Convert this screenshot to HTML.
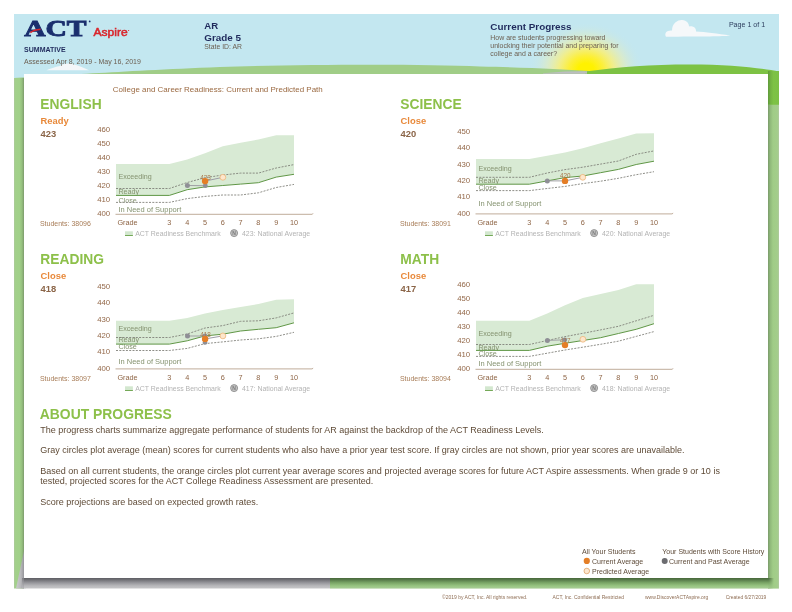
<!DOCTYPE html>
<html><head><meta charset="utf-8">
<style>
*{margin:0;padding:0;box-sizing:border-box}
html,body{width:792px;height:612px;overflow:hidden;background:#fff}
body{position:relative;font-family:"Liberation Sans",sans-serif}
.a{position:absolute;white-space:nowrap;line-height:1}
.subj{position:absolute;font-weight:bold;font-size:13px;color:#8cc152;line-height:13px;white-space:nowrap}
.stat{position:absolute;font-weight:bold;font-size:9px;color:#e8893a;line-height:9px}
.scr{position:absolute;font-weight:bold;font-size:9px;color:#8b6548;line-height:9px}
svg text{font-family:"Liberation Sans",sans-serif}
.ov{position:absolute;left:0;top:0;will-change:transform}
svg{will-change:transform}
.tk{font-size:7.8px;fill:#94694a}
.zn{font-size:7.2px;fill:#84926f}
.gr{font-size:7.3px;fill:#8f6647}
.st{font-size:7px;fill:#a87d58}
.lg{font-size:6.95px;fill:#b3b3b3}
.nn{font-size:5px;fill:#7a7a7a;font-weight:bold}
.dl{font-size:6.3px;fill:#a8784c}
.body{position:absolute;left:40px;font-size:7.6px;color:#5d4a38;white-space:nowrap;line-height:1}
</style></head><body>
<svg style="position:absolute;left:0;top:0" width="792" height="612" viewBox="0 0 792 612">
<defs>
<radialGradient id="sun" cx="586" cy="70" r="48" gradientUnits="userSpaceOnUse" gradientTransform="translate(586,70) scale(1.2,1) translate(-586,-70)">
<stop offset="0" stop-color="#fff200"/>
<stop offset="0.14" stop-color="#fff200"/>
<stop offset="0.3" stop-color="#fcef3a"/>
<stop offset="0.48" stop-color="#f6ef80" stop-opacity="0.9"/>
<stop offset="0.68" stop-color="#e6edb6" stop-opacity="0.6"/>
<stop offset="0.85" stop-color="#d2e9d8" stop-opacity="0.3"/>
<stop offset="1" stop-color="#c3e7f0" stop-opacity="0"/>
</radialGradient>
<linearGradient id="bsh" gradientUnits="userSpaceOnUse" x1="0" y1="578" x2="0" y2="588.6">
<stop offset="0" stop-color="#5e5e63"/>
<stop offset="0.15" stop-color="#6e6e73"/>
<stop offset="0.45" stop-color="#96969b"/>
<stop offset="0.75" stop-color="#b9b9bc"/>
<stop offset="1" stop-color="#c6c6c8"/>
</linearGradient>
<linearGradient id="gsh" gradientUnits="userSpaceOnUse" x1="0" y1="578" x2="0" y2="588.6">
<stop offset="0" stop-color="#48683a"/>
<stop offset="0.15" stop-color="#557848"/>
<stop offset="0.45" stop-color="#7aa566"/>
<stop offset="0.75" stop-color="#98c582"/>
<stop offset="1" stop-color="#a9cc96"/>
</linearGradient>
<linearGradient id="wsh" gradientUnits="userSpaceOnUse" x1="16" y1="0" x2="24" y2="0">
<stop offset="0" stop-color="#cacacd"/>
<stop offset="0.6" stop-color="#b8b8bb"/>
<stop offset="1" stop-color="#96969b"/>
</linearGradient>
<linearGradient id="lsh" gradientUnits="userSpaceOnUse" x1="14" y1="0" x2="24" y2="0">
<stop offset="0" stop-color="#adc99c"/>
<stop offset="0.15" stop-color="#a3d08b"/>
<stop offset="0.55" stop-color="#a1d089"/>
<stop offset="0.8" stop-color="#95bf7e"/>
<stop offset="1" stop-color="#7c9a6c"/>
</linearGradient>
<linearGradient id="rsh" gradientUnits="userSpaceOnUse" x1="768" y1="0" x2="779" y2="0">
<stop offset="0" stop-color="#7a9a6a"/>
<stop offset="0.2" stop-color="#90b97b"/>
<stop offset="0.45" stop-color="#a0cc87"/>
<stop offset="0.85" stop-color="#a3cd8b"/>
<stop offset="1" stop-color="#b0c9a0"/>
</linearGradient>
<linearGradient id="rsh2" gradientUnits="userSpaceOnUse" x1="768" y1="0" x2="779" y2="0">
<stop offset="0" stop-color="#5f9a3a"/>
<stop offset="0.25" stop-color="#74b442"/>
<stop offset="0.5" stop-color="#7dc244"/>
<stop offset="1" stop-color="#7cc046"/>
</linearGradient>
<linearGradient id="fr" gradientUnits="userSpaceOnUse" x1="768" y1="0" x2="774" y2="0">
<stop offset="0" stop-color="#fff"/><stop offset="1" stop-color="#000"/>
</linearGradient>
<mask id="fadeR" maskUnits="userSpaceOnUse" x="760" y="570" width="30" height="30"><rect x="760" y="570" width="30" height="30" fill="url(#fr)"/></mask>
</defs>
<rect x="14" y="14" width="765" height="574" fill="#c3e7f0"/>
<rect x="14" y="14" width="765" height="70" fill="url(#sun)"/>
<!-- clouds -->
<path d="M46.5,70.3 C50,68.6 55,67 60,66 C62.5,64 68,62.6 73,64.2 C78,65.2 84,67.6 89,70.3 Z" fill="#f4f7f9"/>
<g fill="#f5f8fa">
<path d="M666,36.7 C664,33 667,30 672,30.5 C672,23 678,19.8 682,20 C687,20.3 689,23.5 689,26.5 C693,25.5 696.5,28 696,31.5 C705,32 718,33.5 730,35.6 C726,36.5 700,36.8 666,36.7 Z"/>
</g>
<!-- left hill -->
<path d="M14,78 C60,75.8 110,71.5 220,67 C300,64.5 420,64 480,66.5 C530,67.5 560,69 590,71 L590,100 L14,100 Z" fill="#a0cd87"/>
<!-- right hill -->
<path d="M585,71.5 C620,67 650,64.5 690,64.5 C730,64.5 760,68 779,71.5 L779,105 L585,105 Z" fill="#7dc244"/>
<!-- strips -->
<rect x="14" y="78" width="10" height="510.5" fill="url(#lsh)"/>
<rect x="768" y="104.5" width="11" height="484.1" fill="url(#rsh)"/>
<rect x="768" y="71" width="11" height="33.5" fill="url(#rsh2)"/>
<!-- bottom strip -->
<rect x="330" y="578" width="438" height="10.6" fill="url(#gsh)"/>
<rect x="768" y="578" width="6" height="10.6" fill="url(#gsh)" mask="url(#fadeR)"/>
<polygon points="24,578 330,578 330,588.6 24,588.6" fill="url(#bsh)"/>
<polygon points="24,551 24,588.6 16,588.6" fill="url(#wsh)"/>
<rect x="22" y="578" width="4" height="10.6" fill="url(#bsh)" opacity="0.5"/>
<polygon points="543,73.7 587,73.7 587,71.3 565,71.4 543,73.2" fill="#bcbdc0"/>
</svg>

<div style="position:absolute;left:24px;top:74px;width:744px;height:504px;background:#fff"></div>
<svg style="position:absolute;left:0;top:0" width="792" height="612" viewBox="0 0 792 612">
<text x="24.2" y="36.2" style="font-family:'Liberation Serif';font-weight:bold;font-size:22.5px" fill="#1b2f6e" stroke="#1b2f6e" stroke-width="0.9" textLength="62.4" lengthAdjust="spacingAndGlyphs">ACT</text>
<path d="M30.3,32.6 Q34,29.8 40.5,29.3" stroke="#d9262c" stroke-width="1.4" fill="none"/>
<circle cx="89.7" cy="21.4" r="0.9" fill="#1b2f6e"/>
<text x="93.5" y="35.8" style="font-family:'Liberation Sans';font-size:10.5px" fill="#d9262c" stroke="#d9262c" stroke-width="0.5" textLength="34.2" lengthAdjust="spacingAndGlyphs">Aspire</text>
<circle cx="128.6" cy="30.5" r="0.6" fill="#d9262c"/>
</svg>
<svg class="ov" width="792" height="612" viewBox="0 0 792 612"><text x="24.1" y="52.0" font-size="7.0" fill="#1f2a5c" font-weight="bold">SUMMATIVE</text>
<text x="24.1" y="64.1" font-size="7.0" fill="#6b5e50">Assessed Apr 8, 2019 - May 16, 2019</text>
<text x="204.3" y="29.3" font-size="9.6" fill="#1f2a5c" font-weight="bold">AR</text>
<text x="204.3" y="40.5" font-size="9.9" fill="#1f2a5c" font-weight="bold">Grade 5</text>
<text x="204.3" y="48.6" font-size="6.85" fill="#6b5e50">State ID: AR</text>
<text x="490.3" y="30.2" font-size="9.9" fill="#1f2a5c" font-weight="bold">Current Progress</text>
<text x="490.3" y="40.0" font-size="6.96" fill="#6b5e50">How are students progressing toward</text>
<text x="490.3" y="47.8" font-size="6.97" fill="#6b5e50">unlocking their potential and preparing for</text>
<text x="490.3" y="55.7" font-size="6.94" fill="#6b5e50">college and a career?</text>
<text x="728.9" y="26.9" font-size="7.1" fill="#2d3e5e">Page 1 of 1</text>
</svg>

<svg class="ov" width="792" height="612" viewBox="0 0 792 612"><text x="112.8" y="92.0" font-size="7.97" fill="#9b6a42">College and Career Readiness: Current and Predicted Path</text>
</svg>

<svg class="ov" width="792" height="612" viewBox="0 0 792 612"><text x="40.3" y="108.8" font-size="13.8" fill="#8dc04a" font-weight="bold">ENGLISH</text>
<text x="40.6" y="123.5" font-size="9.4" fill="#e8893a" font-weight="bold">Ready</text>
<text x="40.6" y="136.9" font-size="9.4" fill="#8b6548" font-weight="bold">423</text>
</svg>
<svg class="ov" width="792" height="612" viewBox="0 0 792 612"><text x="400.3" y="108.8" font-size="13.8" fill="#8dc04a" font-weight="bold">SCIENCE</text>
<text x="400.6" y="123.5" font-size="9.4" fill="#e8893a" font-weight="bold">Close</text>
<text x="400.6" y="136.9" font-size="9.4" fill="#8b6548" font-weight="bold">420</text>
</svg>
<svg class="ov" width="792" height="612" viewBox="0 0 792 612"><text x="40.3" y="263.8" font-size="13.8" fill="#8dc04a" font-weight="bold">READING</text>
<text x="40.6" y="278.5" font-size="9.4" fill="#e8893a" font-weight="bold">Close</text>
<text x="40.6" y="291.9" font-size="9.4" fill="#8b6548" font-weight="bold">418</text>
</svg>
<svg class="ov" width="792" height="612" viewBox="0 0 792 612"><text x="400.3" y="263.8" font-size="13.8" fill="#8dc04a" font-weight="bold">MATH</text>
<text x="400.6" y="278.5" font-size="9.4" fill="#e8893a" font-weight="bold">Close</text>
<text x="400.6" y="291.9" font-size="9.4" fill="#8b6548" font-weight="bold">417</text>
</svg>

<svg style="position:absolute;left:0;top:0" width="792" height="612" viewBox="0 0 792 612">
<g transform="translate(0,0)">
<polygon points="116.0,163.9 169.4,163.9 187.2,159.5 205.0,153.3 222.8,146.2 240.6,142.7 258.4,139.5 276.2,135.3 294.0,135.3 294.0,174.3 276.2,177.1 258.4,182.7 240.6,184.1 222.8,185.5 205.0,186.9 187.2,189.7 169.4,195.4 116.0,195.4" fill="#d8ead4"/>
<text x="118.4" y="179.3" class="zn" textLength="33.4" lengthAdjust="spacingAndGlyphs">Exceeding</text>
<text x="118.4" y="194.3" class="zn">Ready</text>
<polygon points="116.0,195.4 169.4,195.4 187.2,189.7 205.0,186.9 222.8,185.5 240.6,184.1 258.4,182.7 276.2,177.1 294.0,174.3 294.0,184.4 276.2,187.5 258.4,192.8 240.6,195.0 222.8,195.0 205.0,196.4 187.2,198.6 169.4,202.4 116.0,202.4" fill="#fff"/>
<text x="118.4" y="202.5" class="zn">Close</text>
<polygon points="116.0,202.4 169.4,202.4 187.2,198.6 205.0,196.4 222.8,195.0 240.6,195.0 258.4,192.8 276.2,187.5 294.0,184.4 294.0,214.3 116.0,214.3" fill="#fff"/>
<text x="118.4" y="211.7" class="zn" textLength="63" lengthAdjust="spacingAndGlyphs">In Need of Support</text>
<polyline points="116.0,188.5 169.4,188.5 187.2,182.5 205.0,177.7 222.8,175.0 240.6,173.1 258.4,173.1 276.2,168.0 294.0,164.6" fill="none" stroke="#7b7b74" stroke-width="0.85" stroke-dasharray="2,1.3"/>
<polyline points="116.0,202.4 169.4,202.4 187.2,198.6 205.0,196.4 222.8,195.0 240.6,195.0 258.4,192.8 276.2,187.5 294.0,184.4" fill="none" stroke="#7b7b74" stroke-width="0.85" stroke-dasharray="2,1.3"/>
<polyline points="116.0,195.4 169.4,195.4 187.2,189.7 205.0,186.9 222.8,185.5 240.6,184.1 258.4,182.7 276.2,177.1 294.0,174.3" fill="none" stroke="#5f9645" stroke-width="1"/>
<path d="M115.5,214.3 L312.3,214.3 L313,213.3" fill="none" stroke="#b9a48f" stroke-width="0.9"/>
<text x="110.2" y="216.0" text-anchor="end" class="tk">400</text>
<text x="110.2" y="202.0" text-anchor="end" class="tk">410</text>
<text x="110.2" y="187.9" text-anchor="end" class="tk">420</text>
<text x="110.2" y="173.9" text-anchor="end" class="tk">430</text>
<text x="110.2" y="159.9" text-anchor="end" class="tk">440</text>
<text x="110.2" y="145.8" text-anchor="end" class="tk">450</text>
<text x="110.2" y="131.8" text-anchor="end" class="tk">460</text>
<text x="117.4" y="224.6" class="gr">Grade</text>
<text x="169.4" y="224.7" text-anchor="middle" class="gr">3</text>
<text x="187.2" y="224.7" text-anchor="middle" class="gr">4</text>
<text x="205.0" y="224.7" text-anchor="middle" class="gr">5</text>
<text x="222.8" y="224.7" text-anchor="middle" class="gr">6</text>
<text x="240.6" y="224.7" text-anchor="middle" class="gr">7</text>
<text x="258.4" y="224.7" text-anchor="middle" class="gr">8</text>
<text x="276.2" y="224.7" text-anchor="middle" class="gr">9</text>
<text x="294.0" y="224.7" text-anchor="middle" class="gr">10</text>
<text x="39.9" y="225.6" class="st">Students: 38096</text>
<rect x="125" y="231.3" width="7.9" height="4.5" fill="#d3e7cf"/>
<rect x="125" y="235" width="7.9" height="0.9" fill="#6aa24a"/>
<text x="135.2" y="235.9" class="lg">ACT Readiness Benchmark</text>
<circle cx="234.1" cy="233.1" r="3.5" fill="#c4c4c4" stroke="#8c8c8c" stroke-width="0.9"/>
<text x="234.1" y="234.9" text-anchor="middle" class="nn">N</text>
<text x="242" y="235.9" class="lg">423: National Average</text>
<line x1="187.4" y1="185.5" x2="205.3" y2="185.7" stroke="#a0a0a4" stroke-width="1"/>
<line x1="205.1" y1="181.1" x2="222.9" y2="177.3" stroke="#9c9ca6" stroke-width="1"/>
<circle cx="187.4" cy="185.5" r="2.5" fill="#8f8f96"/>
<circle cx="205.3" cy="185.7" r="2.4" fill="#8f8f96"/>
<text x="205.4" y="180.1" text-anchor="middle" class="dl">423</text>
<circle cx="205.1" cy="181.1" r="3.2" fill="#e47e26"/>
<circle cx="222.9" cy="177.3" r="2.9" fill="#fde6cc" stroke="#eeb57a" stroke-width="0.8"/>
</g><g transform="translate(360,0)">
<polygon points="116.0,159.1 169.4,159.1 187.2,155.7 205.0,152.4 222.8,148.2 240.6,143.2 258.4,138.4 276.2,133.6 294.0,133.3 294.0,161.2 276.2,164.5 258.4,169.4 240.6,172.7 222.8,176.0 205.0,177.6 187.2,180.9 169.4,184.2 116.0,184.2" fill="#d8ead4"/>
<text x="118.4" y="171.2" class="zn" textLength="33.4" lengthAdjust="spacingAndGlyphs">Exceeding</text>
<text x="118.4" y="182.6" class="zn">Ready</text>
<polygon points="116.0,184.2 169.4,184.2 187.2,180.9 205.0,177.6 222.8,176.0 240.6,172.7 258.4,169.4 276.2,164.5 294.0,161.2 294.0,171.7 276.2,174.7 258.4,178.3 240.6,181.2 222.8,183.6 205.0,186.4 187.2,188.5 169.4,190.6 116.0,190.6" fill="#fff"/>
<text x="118.4" y="189.6" class="zn">Close</text>
<polygon points="116.0,190.6 169.4,190.6 187.2,188.5 205.0,186.4 222.8,183.6 240.6,181.2 258.4,178.3 276.2,174.7 294.0,171.7 294.0,213.9 116.0,213.9" fill="#fff"/>
<text x="118.4" y="205.8" class="zn" textLength="63" lengthAdjust="spacingAndGlyphs">In Need of Support</text>
<polyline points="116.0,177.3 169.4,177.3 187.2,173.0 205.0,169.6 222.8,167.2 240.6,164.1 258.4,161.0 276.2,154.3 294.0,150.9" fill="none" stroke="#7b7b74" stroke-width="0.85" stroke-dasharray="2,1.3"/>
<polyline points="116.0,190.6 169.4,190.6 187.2,188.5 205.0,186.4 222.8,183.6 240.6,181.2 258.4,178.3 276.2,174.7 294.0,171.7" fill="none" stroke="#7b7b74" stroke-width="0.85" stroke-dasharray="2,1.3"/>
<polyline points="116.0,184.2 169.4,184.2 187.2,180.9 205.0,177.6 222.8,176.0 240.6,172.7 258.4,169.4 276.2,164.5 294.0,161.2" fill="none" stroke="#5f9645" stroke-width="1"/>
<path d="M115.5,213.9 L312.3,213.9 L313,212.9" fill="none" stroke="#b9a48f" stroke-width="0.9"/>
<text x="110.2" y="215.6" text-anchor="end" class="tk">400</text>
<text x="110.2" y="199.2" text-anchor="end" class="tk">410</text>
<text x="110.2" y="182.9" text-anchor="end" class="tk">420</text>
<text x="110.2" y="166.5" text-anchor="end" class="tk">430</text>
<text x="110.2" y="150.2" text-anchor="end" class="tk">440</text>
<text x="110.2" y="133.8" text-anchor="end" class="tk">450</text>
<text x="117.4" y="224.6" class="gr">Grade</text>
<text x="169.4" y="224.7" text-anchor="middle" class="gr">3</text>
<text x="187.2" y="224.7" text-anchor="middle" class="gr">4</text>
<text x="205.0" y="224.7" text-anchor="middle" class="gr">5</text>
<text x="222.8" y="224.7" text-anchor="middle" class="gr">6</text>
<text x="240.6" y="224.7" text-anchor="middle" class="gr">7</text>
<text x="258.4" y="224.7" text-anchor="middle" class="gr">8</text>
<text x="276.2" y="224.7" text-anchor="middle" class="gr">9</text>
<text x="294.0" y="224.7" text-anchor="middle" class="gr">10</text>
<text x="39.9" y="225.6" class="st">Students: 38091</text>
<rect x="125" y="231.3" width="7.9" height="4.5" fill="#d3e7cf"/>
<rect x="125" y="235" width="7.9" height="0.9" fill="#6aa24a"/>
<text x="135.2" y="235.9" class="lg">ACT Readiness Benchmark</text>
<circle cx="234.1" cy="233.1" r="3.5" fill="#c4c4c4" stroke="#8c8c8c" stroke-width="0.9"/>
<text x="234.1" y="234.9" text-anchor="middle" class="nn">N</text>
<text x="242" y="235.9" class="lg">420: National Average</text>
<line x1="187.3" y1="180.9" x2="205" y2="180.9" stroke="#a0a0a4" stroke-width="1"/>
<line x1="205" y1="180.9" x2="222.8" y2="177.3" stroke="#9c9ca6" stroke-width="1"/>
<circle cx="187.3" cy="180.9" r="2.5" fill="#8f8f96"/>
<circle cx="205" cy="180.9" r="2.4" fill="#8f8f96"/>
<text x="205.3" y="178.4" text-anchor="middle" class="dl">420</text>
<circle cx="205" cy="180.9" r="3.2" fill="#e47e26"/>
<circle cx="222.8" cy="177.3" r="2.9" fill="#fde6cc" stroke="#eeb57a" stroke-width="0.8"/>
</g><g transform="translate(0,155)">
<polygon points="116.0,165.8 169.4,165.8 187.2,162.9 205.0,158.6 222.8,155.0 240.6,151.9 258.4,149.0 276.2,144.7 294.0,144.2 294.0,167.8 276.2,172.7 258.4,174.3 240.6,176.0 222.8,179.2 205.0,180.9 187.2,185.8 169.4,189.1 116.0,189.1" fill="#d8ead4"/>
<text x="118.4" y="176.2" class="zn" textLength="33.4" lengthAdjust="spacingAndGlyphs">Exceeding</text>
<text x="118.4" y="187.4" class="zn">Ready</text>
<polygon points="116.0,189.1 169.4,189.1 187.2,185.8 205.0,180.9 222.8,179.2 240.6,176.0 258.4,174.3 276.2,172.7 294.0,167.8 294.0,177.3 276.2,181.4 258.4,183.8 240.6,185.0 222.8,186.9 205.0,188.6 187.2,193.4 169.4,195.5 116.0,195.5" fill="#fff"/>
<text x="118.4" y="194.0" class="zn">Close</text>
<polygon points="116.0,195.5 169.4,195.5 187.2,193.4 205.0,188.6 222.8,186.9 240.6,185.0 258.4,183.8 276.2,181.4 294.0,177.3 294.0,213.9 116.0,213.9" fill="#fff"/>
<text x="118.4" y="208.6" class="zn" textLength="63" lengthAdjust="spacingAndGlyphs">In Need of Support</text>
<polyline points="116.0,182.5 169.4,182.5 187.2,179.0 205.0,173.0 222.8,170.6 240.6,166.3 258.4,165.8 276.2,162.9 294.0,157.9" fill="none" stroke="#7b7b74" stroke-width="0.85" stroke-dasharray="2,1.3"/>
<polyline points="116.0,195.5 169.4,195.5 187.2,193.4 205.0,188.6 222.8,186.9 240.6,185.0 258.4,183.8 276.2,181.4 294.0,177.3" fill="none" stroke="#7b7b74" stroke-width="0.85" stroke-dasharray="2,1.3"/>
<polyline points="116.0,189.1 169.4,189.1 187.2,185.8 205.0,180.9 222.8,179.2 240.6,176.0 258.4,174.3 276.2,172.7 294.0,167.8" fill="none" stroke="#5f9645" stroke-width="1"/>
<path d="M115.5,213.9 L312.3,213.9 L313,212.9" fill="none" stroke="#b9a48f" stroke-width="0.9"/>
<text x="110.2" y="215.6" text-anchor="end" class="tk">400</text>
<text x="110.2" y="199.2" text-anchor="end" class="tk">410</text>
<text x="110.2" y="182.9" text-anchor="end" class="tk">420</text>
<text x="110.2" y="166.5" text-anchor="end" class="tk">430</text>
<text x="110.2" y="150.2" text-anchor="end" class="tk">440</text>
<text x="110.2" y="133.8" text-anchor="end" class="tk">450</text>
<text x="117.4" y="224.6" class="gr">Grade</text>
<text x="169.4" y="224.7" text-anchor="middle" class="gr">3</text>
<text x="187.2" y="224.7" text-anchor="middle" class="gr">4</text>
<text x="205.0" y="224.7" text-anchor="middle" class="gr">5</text>
<text x="222.8" y="224.7" text-anchor="middle" class="gr">6</text>
<text x="240.6" y="224.7" text-anchor="middle" class="gr">7</text>
<text x="258.4" y="224.7" text-anchor="middle" class="gr">8</text>
<text x="276.2" y="224.7" text-anchor="middle" class="gr">9</text>
<text x="294.0" y="224.7" text-anchor="middle" class="gr">10</text>
<text x="39.9" y="225.6" class="st">Students: 38097</text>
<rect x="125" y="231.3" width="7.9" height="4.5" fill="#d3e7cf"/>
<rect x="125" y="235" width="7.9" height="0.9" fill="#6aa24a"/>
<text x="135.2" y="235.9" class="lg">ACT Readiness Benchmark</text>
<circle cx="234.1" cy="233.1" r="3.5" fill="#c4c4c4" stroke="#8c8c8c" stroke-width="0.9"/>
<text x="234.1" y="234.9" text-anchor="middle" class="nn">N</text>
<text x="242" y="235.9" class="lg">417: National Average</text>
<line x1="187.5" y1="181" x2="205" y2="181" stroke="#a0a0a4" stroke-width="1"/>
<line x1="205.1" y1="183.9" x2="222.9" y2="180.9" stroke="#9c9ca6" stroke-width="1"/>
<circle cx="187.5" cy="181" r="2.5" fill="#8f8f96"/>
<circle cx="205" cy="181" r="2.4" fill="#8f8f96"/>
<circle cx="205" cy="187.5" r="2.3" fill="#8f8f96"/>
<text x="205.4" y="182.0" text-anchor="middle" class="dl">418</text>
<circle cx="205.1" cy="183.9" r="3.2" fill="#e47e26"/>
<circle cx="222.9" cy="180.9" r="2.9" fill="#fde6cc" stroke="#eeb57a" stroke-width="0.8"/>
</g><g transform="translate(360,155)">
<polygon points="116.0,165.8 169.4,165.8 187.2,158.6 205.0,150.2 222.8,143.0 240.6,138.9 258.4,135.1 276.2,129.3 294.0,129.3 294.0,168.7 276.2,174.3 258.4,178.5 240.6,182.7 222.8,185.5 205.0,188.3 187.2,191.2 169.4,195.4 116.0,195.4" fill="#d8ead4"/>
<text x="118.4" y="180.9" class="zn" textLength="33.4" lengthAdjust="spacingAndGlyphs">Exceeding</text>
<text x="118.4" y="194.6" class="zn">Ready</text>
<polygon points="116.0,195.4 169.4,195.4 187.2,191.2 205.0,188.3 222.8,185.5 240.6,182.7 258.4,178.5 276.2,174.3 294.0,168.7 294.0,176.6 276.2,181.4 258.4,186.2 240.6,189.3 222.8,192.2 205.0,195.0 187.2,198.2 169.4,201.4 116.0,201.4" fill="#fff"/>
<text x="118.4" y="200.8" class="zn">Close</text>
<polygon points="116.0,201.4 169.4,201.4 187.2,198.2 205.0,195.0 222.8,192.2 240.6,189.3 258.4,186.2 276.2,181.4 294.0,176.6 294.0,214.3 116.0,214.3" fill="#fff"/>
<text x="118.4" y="211.4" class="zn" textLength="63" lengthAdjust="spacingAndGlyphs">In Need of Support</text>
<polyline points="116.0,189.5 169.4,189.5 187.2,185.5 205.0,181.6 222.8,178.3 240.6,174.9 258.4,171.3 276.2,165.8 294.0,160.3" fill="none" stroke="#7b7b74" stroke-width="0.85" stroke-dasharray="2,1.3"/>
<polyline points="116.0,201.4 169.4,201.4 187.2,198.2 205.0,195.0 222.8,192.2 240.6,189.3 258.4,186.2 276.2,181.4 294.0,176.6" fill="none" stroke="#7b7b74" stroke-width="0.85" stroke-dasharray="2,1.3"/>
<polyline points="116.0,195.4 169.4,195.4 187.2,191.2 205.0,188.3 222.8,185.5 240.6,182.7 258.4,178.5 276.2,174.3 294.0,168.7" fill="none" stroke="#5f9645" stroke-width="1"/>
<path d="M115.5,214.3 L312.3,214.3 L313,213.3" fill="none" stroke="#b9a48f" stroke-width="0.9"/>
<text x="110.2" y="216.0" text-anchor="end" class="tk">400</text>
<text x="110.2" y="202.0" text-anchor="end" class="tk">410</text>
<text x="110.2" y="187.9" text-anchor="end" class="tk">420</text>
<text x="110.2" y="173.9" text-anchor="end" class="tk">430</text>
<text x="110.2" y="159.9" text-anchor="end" class="tk">440</text>
<text x="110.2" y="145.8" text-anchor="end" class="tk">450</text>
<text x="110.2" y="131.8" text-anchor="end" class="tk">460</text>
<text x="117.4" y="224.6" class="gr">Grade</text>
<text x="169.4" y="224.7" text-anchor="middle" class="gr">3</text>
<text x="187.2" y="224.7" text-anchor="middle" class="gr">4</text>
<text x="205.0" y="224.7" text-anchor="middle" class="gr">5</text>
<text x="222.8" y="224.7" text-anchor="middle" class="gr">6</text>
<text x="240.6" y="224.7" text-anchor="middle" class="gr">7</text>
<text x="258.4" y="224.7" text-anchor="middle" class="gr">8</text>
<text x="276.2" y="224.7" text-anchor="middle" class="gr">9</text>
<text x="294.0" y="224.7" text-anchor="middle" class="gr">10</text>
<text x="39.9" y="225.6" class="st">Students: 38094</text>
<rect x="125" y="231.3" width="7.9" height="4.5" fill="#d3e7cf"/>
<rect x="125" y="235" width="7.9" height="0.9" fill="#6aa24a"/>
<text x="135.2" y="235.9" class="lg">ACT Readiness Benchmark</text>
<circle cx="234.1" cy="233.1" r="3.5" fill="#c4c4c4" stroke="#8c8c8c" stroke-width="0.9"/>
<text x="234.1" y="234.9" text-anchor="middle" class="nn">N</text>
<text x="242" y="235.9" class="lg">418: National Average</text>
<line x1="187.4" y1="185.4" x2="204.8" y2="184.8" stroke="#a0a0a4" stroke-width="1"/>
<circle cx="187.4" cy="185.4" r="2.5" fill="#8f8f96"/>
<circle cx="204.8" cy="184.8" r="2.4" fill="#8f8f96"/>
<text x="205.3" y="188.2" text-anchor="middle" class="dl">417</text>
<circle cx="205" cy="190.1" r="3.2" fill="#e47e26"/>
<circle cx="222.9" cy="184.3" r="2.9" fill="#fde6cc" stroke="#eeb57a" stroke-width="0.8"/>
</g>
</svg>
<svg class="ov" width="792" height="612" viewBox="0 0 792 612"><text x="39.8" y="418.9" font-size="13.9" fill="#8dc04a" font-weight="bold">ABOUT PROGRESS</text>
<text x="40.2" y="432.9" font-size="9" fill="#5f4b37">The progress charts summarize aggregate performance of students for AR against the backdrop of the ACT Readiness Levels.</text>
<text x="40.2" y="453.1" font-size="9" fill="#5f4b37">Gray circles plot average (mean) scores for current students who also have a prior year test score. If gray circles are not shown, prior year scores are unavailable.</text>
<text x="40.2" y="474.1" font-size="9" fill="#5f4b37">Based on all current students, the orange circles plot current year average scores and projected average scores for future ACT Aspire assessments. When grade 9 or 10 is</text>
<text x="40.2" y="484.2" font-size="9" fill="#5f4b37">tested, projected scores for the ACT College Readiness Assessment are presented.</text>
<text x="40.2" y="504.9" font-size="9" fill="#5f4b37">Score projections are based on expected growth rates.</text>
<text x="581.9" y="553.8" font-size="7.05" fill="#5f4c3a">All Your Students</text>
<text x="662.3" y="553.8" font-size="7.0" fill="#5f4c3a">Your Students with Score History</text>
<text x="592" y="564.2" font-size="7.05" fill="#5f4c3a">Current Average</text>
<text x="592" y="573.7" font-size="7.0" fill="#5f4c3a">Predicted Average</text>
<text x="669" y="564.2" font-size="7.03" fill="#5f4c3a">Current and Past Average</text>
</svg>

<svg style="position:absolute;left:0;top:0" width="792" height="612">
<circle cx="586.8" cy="560.9" r="3.1" fill="#e47e26"/>
<circle cx="586.8" cy="571" r="2.8" fill="#fde7cf" stroke="#dda26a" stroke-width="0.8"/>
<circle cx="664.7" cy="561" r="3" fill="#6c6c70"/>
</svg>
<svg class="ov" width="792" height="612" viewBox="0 0 792 612"><text x="442" y="598.8" font-size="5.0" fill="#8f6e55">&copy;2019 by ACT, Inc. All rights reserved.</text>
<text x="552.5" y="598.8" font-size="4.98" fill="#8f6e55">ACT, Inc. Confidential Restricted</text>
<text x="645" y="598.8" font-size="4.96" fill="#8f6e55">www.DiscoverACTAspire.org</text>
<text x="725.7" y="598.8" font-size="4.93" fill="#8f6e55">Created 6/27/2019</text>
</svg>

</body></html>
